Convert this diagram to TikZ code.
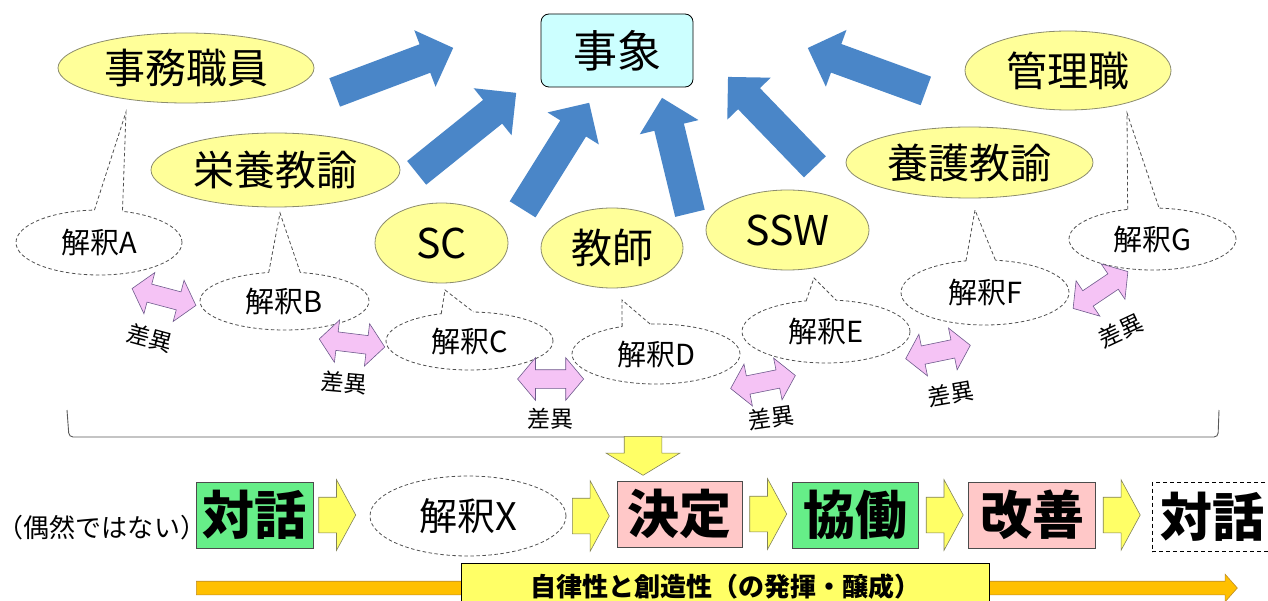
\documentclass[tikz,border=0pt]{standalone}
\usepackage{fontspec}
\setmainfont{Noto Sans CJK JP}
\usetikzlibrary{shapes.geometric,shapes.arrows,calc}
\definecolor{ellfill}{RGB}{255,255,153}
\definecolor{ellline}{RGB}{140,140,110}
\definecolor{boxcyan}{RGB}{204,255,255}
\definecolor{bluearr}{RGB}{74,134,200}
\definecolor{pinkarr}{RGB}{245,195,245}
\definecolor{pinkline}{RGB}{110,90,140}
\definecolor{yelarr}{RGB}{255,255,102}
\definecolor{yelline}{RGB}{130,130,90}
\definecolor{greenbox}{RGB}{102,238,136}
\definecolor{pinkbox}{RGB}{255,200,200}
\definecolor{orangebar}{RGB}{255,192,0}
\definecolor{orangeline}{RGB}{190,140,40}
\definecolor{dashgray}{RGB}{80,80,80}
\newcommand\calloutptr[4]{%
  \fill[white] (#4) -- (#1.#2) -- ($(#1.#2)!0.15!(#1.center)$) -- ($(#1.#3)!0.15!(#1.center)$) -- (#1.#3) -- cycle;
  \draw[dashline] (#1.#2) -- (#4) -- (#1.#3);}
\begin{document}
\begin{tikzpicture}[x=1pt,y=-1pt,
  role/.style={ellipse, draw=ellline, fill=ellfill, line width=0.8pt, inner sep=0pt, outer sep=0pt, font=\fontsize{41}{44}\selectfont},
  interp/.style={ellipse, draw=dashgray, dash pattern=on 3.5pt off 2.5pt, line width=0.8pt, fill=white, inner sep=0pt, outer sep=0pt, font=\fontsize{29}{32}\selectfont},
  dashline/.style={draw=dashgray, dash pattern=on 3.5pt off 2.5pt, line width=0.8pt},
  bluearrow/.style={single arrow, fill=bluearr, draw=none, inner xsep=0pt, inner ysep=15pt, single arrow head extend=15pt, single arrow tip angle=90, anchor=tail},
  diffarrow/.style={double arrow, fill=pinkarr, draw=pinkline, line width=0.6pt, inner xsep=0pt, inner ysep=9pt, double arrow head extend=12pt, double arrow tip angle=100, minimum height=66pt},
  difflabel/.style={font=\fontsize{23}{25}\selectfont, inner sep=0pt},
  yelarrow/.style={single arrow, fill=yelarr, draw=yelline, line width=0.6pt, inner xsep=0pt, inner ysep=17.5pt, single arrow head extend=17.5pt, single arrow tip angle=123, minimum height=37pt, anchor=tail},
  stepbox/.style={draw=black!70, line width=0.8pt, minimum height=66pt, inner sep=0pt, font=\fontsize{52}{56}\selectfont\bfseries}
]
\useasboundingbox (0,0) rectangle (1268,601);
\fill[white] (0,0) rectangle (1268,601);
\clip (0,0) rectangle (1268,601);

% event box
\node[draw=black, line width=0.8pt, fill=boxcyan, rounded corners=8pt, minimum width=152pt, minimum height=73pt, inner sep=0pt, font=\fontsize{44}{48}\selectfont] (jisho) at (617,50.5) {事象};

% blue arrows
\node[bluearrow, minimum height=126.6pt, rotate=20.6] (b1) at (334.5,92.5) {};
\node[bluearrow, minimum height=127.7pt, rotate=38.8] (b2) at (416.5,173) {};
\node[bluearrow, minimum height=125.6pt, rotate=58] (b3) at (522.5,209.5) {};
\node[bluearrow, minimum height=118.8pt, rotate=103.6] (b4) at (690,213.5) {};
\node[bluearrow, minimum height=125pt, rotate=134] (b5) at (815,167) {};
\node[bluearrow, minimum height=125.6pt, rotate=160] (b6) at (926,91) {};

% interpretation callouts
\node[interp, minimum width=166pt, minimum height=65pt] (iA) at (99,242.5) {解釈A};
\node[interp, minimum width=169pt, minimum height=58pt] (iB) at (284.5,301) {解釈B};
\node[interp, minimum width=167pt, minimum height=58pt] (iC) at (469.5,341) {解釈C};
\node[interp, minimum width=168pt, minimum height=60pt] (iD) at (656,354) {解釈D};
\node[interp, minimum width=168pt, minimum height=63pt] (iE) at (826,331.5) {解釈E};
\node[interp, minimum width=168pt, minimum height=65pt] (iF) at (985,292.5) {解釈F};
\node[interp, minimum width=167pt, minimum height=62pt] (iG) at (1152.5,239) {解釈G};
\coordinate (tA) at (126,112);
\coordinate (tB) at (280,213);
\coordinate (tC) at (445,290);
\coordinate (tD) at (622,300);
\coordinate (tE) at (814,278);
\coordinate (tF) at (975,210);
\coordinate (tG) at (1127,113);
\calloutptr{iA}{98.7}{53.9}{tA}
\calloutptr{iB}{119.9}{61.6}{tB}
\calloutptr{iC}{136}{82.9}{tC}
\calloutptr{iD}{141}{101}{tD}
\calloutptr{iE}{123}{72.3}{tE}
\calloutptr{iF}{121}{72.8}{tF}
\calloutptr{iG}{130.8}{78}{tG}

% role ellipses
\node[role, minimum width=256pt, minimum height=70pt] (jimu) at (186,68) {事務職員};
\node[role, minimum width=249pt, minimum height=74pt] (eiyo) at (275.5,170) {栄養教諭};
\node[role, minimum width=133pt, minimum height=80pt] (sc) at (441.5,243) {SC};
\node[role, minimum width=142pt, minimum height=80pt] (kyoshi) at (612,248) {教師};
\node[role, minimum width=163pt, minimum height=80pt] (ssw) at (787.5,230) {SSW};
\node[role, minimum width=247pt, minimum height=71pt] (yogo) at (969.5,162.5) {養護教諭};
\node[role, minimum width=206pt, minimum height=79pt] (kanri) at (1068,70.5) {管理職};

% difference arrows
\node[diffarrow, rotate=-14.8] (dAB) at (164,297) {};
\node[diffarrow, rotate=-7] (dBC) at (352,343) {};
\node[diffarrow, rotate=0] (dCD) at (550.6,379) {};
\node[diffarrow, rotate=11.4] (dDE) at (763,382) {};
\node[diffarrow, rotate=11.7] (dEF) at (938,352) {};
\node[diffarrow, rotate=33.9] (dFG) at (1100.5,290) {};
\node[difflabel, rotate=-15] (lAB) at (150,338) {差異};
\node[difflabel, rotate=-5] (lBC) at (344,383) {差異};
\node[difflabel] (lCD) at (550,419) {差異};
\node[difflabel, rotate=8] (lDE) at (771,418) {差異};
\node[difflabel, rotate=10] (lEF) at (951,394) {差異};
\node[difflabel, rotate=25] (lFG) at (1121,331) {差異};

% bracket
\draw[black!65, line width=0.9pt, rounded corners=4pt] (67,410) -- (69,437) -- (1218,437) -- (1219,410);

% down arrow
\node[single arrow, fill=yelarr, draw=yelline, line width=0.6pt, inner xsep=0pt, inner ysep=18.5pt, single arrow head extend=18pt, single arrow tip angle=118, minimum height=39pt, anchor=tail, rotate=-90] (down) at (643,436) {};

% bottom row
\node[font=\fontsize{26}{30}\selectfont, inner sep=0pt] (guzen) at (102,528) {（偶然ではない）};
\node[stepbox, fill=greenbox, minimum width=117pt] (taiwa1) at (254.5,515) {対話};
\node[interp, minimum width=196pt, minimum height=80pt, font=\fontsize{38}{40}\selectfont] (kx) at (468,516) {解釈X};
\node[stepbox, fill=pinkbox, minimum width=125pt] (kettei) at (679.5,514) {決定};
\node[stepbox, fill=greenbox, minimum width=126pt] (kyodo) at (855.5,515) {協働};
\node[stepbox, fill=pinkbox, minimum width=127pt] (kaizen) at (1032,515) {改善};
\node[stepbox, draw=black, dash pattern=on 4pt off 3pt, fill=white, minimum width=120pt, minimum height=69pt] (taiwa2) at (1212,517) {対話};
\node[yelarrow] (y1) at ($(taiwa1.east)+(5,0)$) {};
\node[yelarrow] (y2) at ($(kx.east)+(6,0)$) {};
\node[yelarrow] (y3) at ($(kettei.east)+(7,0)$) {};
\node[yelarrow] (y4) at ($(kyodo.east)+(7,0)$) {};
\node[yelarrow] (y5) at ($(kaizen.east)+(7,0)$) {};

% bottom bar
\node[single arrow, fill=orangebar, draw=orangeline, line width=0.6pt, inner xsep=0pt, inner ysep=6.5pt, single arrow head extend=7pt, single arrow tip angle=97, minimum height=1041pt, anchor=tail] (bar) at (196,588) {};
\node[draw=black, line width=0.8pt, fill=yelarr, minimum width=528pt, minimum height=48pt, inner sep=0pt, font=\fontsize{26}{28}\selectfont\bfseries] (label) at (725,587) {自律性と創造性（の発揮・醸成）};
\end{tikzpicture}
\end{document}
